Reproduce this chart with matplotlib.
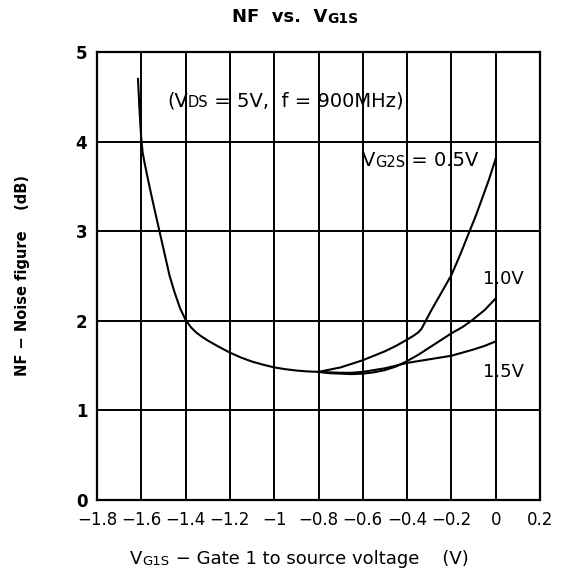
import matplotlib
matplotlib.use("Agg")
import matplotlib.pyplot as plt

plt.rcParams['font.family'] = ['DejaVu Sans']

# Common part of the curves (all three V_G2S overlap here)
x_common = [-1.615, -1.609, -1.604, -1.60, -1.594, -1.585, -1.57, -1.557, -1.54, -1.518,
            -1.495, -1.472, -1.45, -1.425, -1.40, -1.375, -1.35, -1.325, -1.30, -1.25,
            -1.20, -1.15, -1.10, -1.05, -1.00, -0.95, -0.90, -0.85, -0.80]
nf_common = [4.70, 4.40, 4.18, 4.03, 3.88, 3.76, 3.58, 3.43, 3.24, 3.00,
             2.75, 2.50, 2.32, 2.14, 2.01, 1.925, 1.865, 1.82, 1.78, 1.71,
             1.645, 1.59, 1.545, 1.51, 1.48, 1.46, 1.445, 1.435, 1.43]

# V_G2S = 0.5 V
x_05 = [-0.80, -0.75, -0.70, -0.65, -0.60, -0.55, -0.50, -0.45, -0.40, -0.37, -0.35,
        -0.335, -0.316, -0.29, -0.26, -0.23, -0.20, -0.16, -0.118, -0.09, -0.065, -0.03, 0.0]
nf_05 = [1.43, 1.455, 1.48, 1.52, 1.56, 1.61, 1.66, 1.72, 1.79, 1.835, 1.87,
         1.91, 2.00, 2.12, 2.25, 2.38, 2.51, 2.74, 3.00, 3.17, 3.34, 3.58, 3.81]

# V_G2S = 1.0 V
x_10 = [-0.80, -0.75, -0.70, -0.65, -0.60, -0.55, -0.50, -0.45, -0.40, -0.35, -0.30,
        -0.25, -0.20, -0.15, -0.11, -0.05, 0.0]
nf_10 = [1.43, 1.415, 1.41, 1.405, 1.41, 1.425, 1.45, 1.49, 1.55, 1.62, 1.70,
         1.78, 1.86, 1.93, 2.00, 2.12, 2.25]

# V_G2S = 1.5 V
x_15 = [-0.80, -0.75, -0.70, -0.65, -0.60, -0.55, -0.50, -0.45, -0.40, -0.35, -0.30,
        -0.25, -0.20, -0.15, -0.10, -0.05, 0.0]
nf_15 = [1.43, 1.425, 1.42, 1.42, 1.43, 1.45, 1.47, 1.50, 1.53, 1.55, 1.57,
         1.59, 1.61, 1.645, 1.68, 1.72, 1.77]

x_ticks = [-1.8, -1.6, -1.4, -1.2, -1.0, -0.8, -0.6, -0.4, -0.2, 0.0, 0.2]
x_ticklabels = ['\u22121.8', '\u22121.6', '\u22121.4', '\u22121.2', '\u22121', '\u22120.8',
                '\u22120.6', '\u22120.4', '\u22120.2', '0', '0.2']
y_ticks = [0, 1, 2, 3, 4, 5]


def rich(ax, x, y, parts, transform, **kw):
    # parts: list of (text, fontsize); small pieces follow on the same line
    t = ax.text(x, y, parts[0][0], fontsize=parts[0][1], transform=transform,
                va='bottom', ha='left', **kw)
    for s, fs in parts[1:]:
        t = ax.annotate(s, xy=(1, 0), xycoords=t, fontsize=fs,
                        va='bottom', ha='left', annotation_clip=False, **kw)
    return t


fig = plt.figure(figsize=(5.64, 5.76), dpi=100)
ax = fig.add_axes([97 / 564, 76 / 576, 443 / 564, 448 / 576])

lw = 1.5
ax.plot(x_common, nf_common, color='black', lw=lw)
ax.plot(x_05, nf_05, color='black', lw=lw)
ax.plot(x_10, nf_10, color='black', lw=lw)
ax.plot(x_15, nf_15, color='black', lw=lw)

ax.set_xlim(-1.8, 0.2)
ax.set_ylim(0, 5)
ax.set_xticks(x_ticks)
ax.set_xticklabels(x_ticklabels)
ax.set_yticks(y_ticks)
ax.tick_params(length=0, labelsize=12)
ax.tick_params(axis='x', pad=8)
ax.tick_params(axis='y', pad=7)
for lab in ax.get_yticklabels():
    lab.set_fontweight('bold')
ax.grid(True, color='black', lw=1.4)
for sp in ax.spines.values():
    sp.set_linewidth(1.6)

tr = ax.transData
rich(ax, -1.484, 4.35, [('(V', 14), ('DS', 10.5), (' = 5V,  f = 900MHz)', 14)], tr)
rich(ax, -0.604, 3.68, [('V', 14), ('G2S', 10.5), (' = 0.5V', 14)], tr)
ax.text(-0.057, 2.37, '1.0V', fontsize=13, va='bottom', ha='left')
ax.text(-0.057, 1.33, '1.5V', fontsize=13, va='bottom', ha='left')

ft = fig.transFigure
rich(ax, 232 / 564, 1 - 26 / 576, [('NF  vs.  V', 13), ('G1S', 10)], ft, fontweight='bold')
rich(ax, 130 / 564, 1 - 568 / 576,
     [('V', 13), ('G1S', 9.5), (' \u2212 Gate 1 to source voltage    (V)', 13)], ft)
fig.text(23 / 564, 1 - 275 / 576, 'NF \u2212 Noise figure    (dB)', rotation=90,
         fontsize=10.5, fontweight='bold', va='center', ha='center')

fig.savefig('out.png', dpi=100)
